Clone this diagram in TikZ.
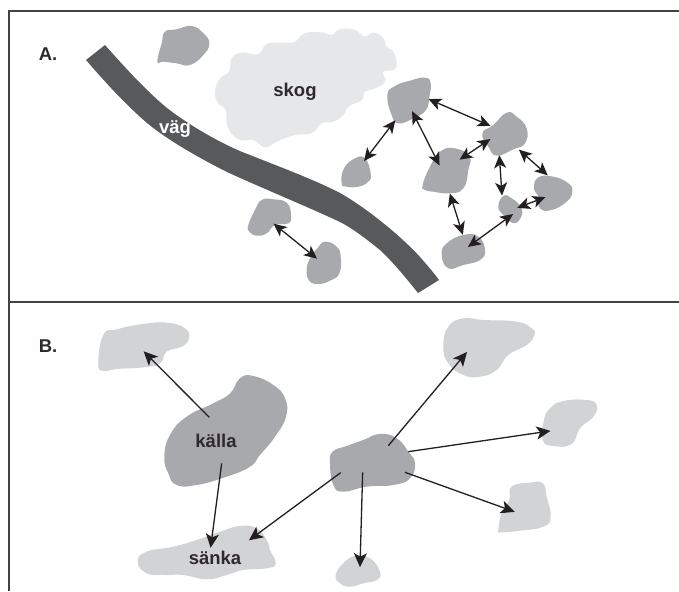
\documentclass[tikz,border=0pt]{standalone}
\usepackage{fontspec}
\setmainfont{Liberation Sans}
\usetikzlibrary{arrows.meta}
\definecolor{patchdark}{HTML}{A7A9AC}
\definecolor{patchlight}{HTML}{D1D3D4}
\definecolor{forestgrey}{HTML}{E6E7E8}
\definecolor{roadgrey}{HTML}{58595B}
\definecolor{inkblack}{HTML}{231F20}
\tikzset{
  zA/.style={shift={(330,60)},scale=0.33333},
  zB/.style={shift={(0,0)},scale=0.33333},
  zC/.style={shift={(0,300)},scale=0.33333},
  zD/.style={shift={(320,300)},scale=0.33333},
  zE/.style={shift={(205,20)},scale=0.33333},
  zF/.style={shift={(230,190)},scale=0.33333},
  frameline/.style={draw=inkblack!85,line width=1.5pt},
  darkblob/.style={fill=patchdark},
  lightblob/.style={fill=patchlight},
  both/.style={inkblack,line width=1.3pt,{Stealth[length=13pt,width=12pt,inset=3.5pt]}-{Stealth[length=13pt,width=12pt,inset=3.5pt]},shorten <=-0.5pt,shorten >=-0.5pt},
  one/.style={inkblack,line width=1.3pt,-{Stealth[length=14pt,width=13pt,inset=3.5pt]},shorten >=-0.5pt},
  lab/.style={font=\fontsize{18.5}{21}\selectfont\bfseries,text=inkblack!95,inner sep=0pt},
}
\newcommand{\blob}[2]{\fill[#1] plot[smooth cycle,tension=0.8] coordinates {#2};}
\begin{document}
\begin{tikzpicture}[x=1pt,y=-1pt]
\useasboundingbox (0,0) rectangle (679,591);
\fill[white] (0,0) rectangle (679,591);
% frame
\draw[frameline] (679,11) -- (9,11) -- (9,591);
\draw[frameline] (9,302) -- (679,302);
% forest
\begin{scope}[zE]
\fill[forestgrey] plot[smooth cycle,tension=0.8] coordinates {(30,215)(45,175)(72,155)(80,115)(110,98)(160,102)(185,72)(235,68)(270,65)(300,40)(350,37)(380,45)(405,28)(450,30)(478,50)(505,38)(535,55)(543,80)(565,95)(575,130)(565,150)(535,155)(540,185)(510,205)(480,215)(470,240)(430,260)(415,285)(385,305)(350,310)(320,340)(270,345)(215,365)(180,382)(145,360)(100,358)(68,320)(62,270)(40,250)};
\end{scope}
% road
\fill[roadgrey] (105,45) .. controls (120,62) and (145,90) .. (167,108)
  .. controls (190,126) and (225,146) .. (250,155)
  .. controls (280,167) and (315,180) .. (340,193)
  .. controls (365,207) and (400,235) .. (420,257)
  .. controls (427,265) and (434,273) .. (439,280)
  -- (418,293)
  .. controls (410,283) and (395,264) .. (380,250)
  .. controls (365,238) and (352,228) .. (340,222)
  .. controls (315,210) and (255,185) .. (227,172)
  .. controls (205,161) and (170,142) .. (147,123)
  .. controls (125,104) and (105,82) .. (86,60) -- cycle;
% panel A patches
\begin{scope}[zB]
\blob{darkblob}{(472,185)(485,130)(495,95)(530,88)(575,78)(610,100)(628,130)(610,165)(570,195)(530,190)(490,185)}
\coordinate (l1) at (822,672);
\coordinate (l2) at (950,775);
\end{scope}
\begin{scope}[zF]
\blob{darkblob}{(55,105)(75,60)(95,30)(130,28)(170,38)(183,75)(175,100)(135,105)(110,130)(80,137)(58,125)}
\blob{darkblob}{(230,240)(240,205)(262,175)(285,155)(320,170)(332,200)(328,250)(300,272)(265,282)(238,272)}
\end{scope}
\begin{scope}[zA]
\blob{darkblob}{(172,105)(195,78)(240,62)(285,53)(302,70)(298,110)(288,150)(250,175)(205,190)(185,165)}
\blob{darkblob}{(35,370)(42,325)(75,295)(105,295)(122,340)(115,365)(85,380)(50,380)}
\blob{darkblob}{(278,375)(300,320)(330,275)(375,265)(418,290)(415,330)(400,385)(360,400)(310,395)(285,390)}
\blob{darkblob}{(457,220)(490,195)(530,158)(560,170)(590,205)(585,250)(550,268)(500,287)(475,260)}
\blob{darkblob}{(612,385)(625,352)(670,350)(715,370)(727,395)(710,425)(665,450)(630,445)(625,410)}
\blob{darkblob}{(505,440)(520,408)(545,415)(575,445)(568,480)(545,488)(520,465)}
\blob{darkblob}{(335,585)(350,550)(400,525)(445,530)(465,570)(450,600)(400,615)(355,625)}
\coordinate (a1) at (297,118); \coordinate (a2) at (480,197);
\coordinate (b1) at (195,182); \coordinate (b2) at (103,302);
\coordinate (c1) at (247,155); \coordinate (c2) at (328,315);
\coordinate (d1) at (480,238); \coordinate (d2) at (390,298);
\coordinate (e1) at (508,287); \coordinate (e2) at (516,405);
\coordinate (f1) at (568,270); \coordinate (f2) at (652,345);
\coordinate (g1) at (645,412); \coordinate (g2) at (563,443);
\coordinate (h1) at (548,463); \coordinate (h2) at (415,560);
\coordinate (i1) at (360,402); \coordinate (i2) at (398,523);
\end{scope}
% panel B patches
\begin{scope}[zC]
\blob{lightblob}{(295,190)(310,105)(350,88)(430,72)(500,68)(555,85)(567,115)(545,140)(500,155)(480,190)(430,202)(350,207)(310,213)}
\blob{darkblob}{(493,470)(510,405)(560,350)(640,310)(690,280)(720,235)(760,228)(820,255)(855,295)(858,350)(825,410)(780,465)(750,500)(680,530)(590,555)(530,555)(505,520)}
\blob{lightblob}{(413,785)(440,755)(520,740)(590,720)(660,695)(720,678)(770,685)(800,720)(810,750)(827,790)(800,805)(730,810)(680,825)(620,838)(550,825)(490,825)(440,820)}
\coordinate (m1) at (628,352); \coordinate (m2) at (432,155);
\coordinate (n1) at (665,490); \coordinate (n2) at (632,742);
\coordinate (o2) at (748,720);
\end{scope}
\begin{scope}[zD]
\blob{lightblob}{(370,140)(385,80)(430,55)(490,60)(590,65)(635,85)(643,105)(620,135)(565,165)(530,210)(480,230)(430,225)(385,190)}
\blob{lightblob}{(672,360)(690,325)(730,303)(800,300)(830,315)(820,350)(780,385)(755,432)(700,438)(668,420)}
\blob{lightblob}{(535,690)(545,640)(568,600)(575,560)(630,548)(668,550)(680,590)(692,650)(670,680)(600,692)(540,697)}
\blob{lightblob}{(47,825)(70,790)(105,768)(150,775)(180,815)(170,840)(130,850)(90,860)(60,850)}
\blob{darkblob}{(30,490)(38,455)(80,438)(130,420)(180,402)(230,415)(265,455)(285,490)(270,535)(220,555)(140,560)(70,575)(40,555)}
\coordinate (o1) at (62,518);
\coordinate (p1) at (205,437); \coordinate (p2) at (440,157);
\coordinate (q1) at (265,455); \coordinate (q2) at (690,393);
\coordinate (r1) at (255,517); \coordinate (r2) at (583,635);
\coordinate (s1) at (128,517); \coordinate (s2) at (120,800);
\end{scope}
% arrows
\foreach \u/\v in {a1/a2,b1/b2,c1/c2,d1/d2,e1/e2,f1/f2,g1/g2,h1/h2,i1/i2,l1/l2}
  \draw[both] (\u) -- (\v);
\foreach \u/\v in {m1/m2,n1/n2,o1/o2,p1/p2,q1/q2,r1/r2,s1/s2}
  \draw[one] (\u) -- (\v);
% labels
\node[lab] (labA) at (48,54) {A.};
\node[lab] (labB) at (48,346) {B.};
\node[lab] (skog) at (295,92) {skog};
\node[lab,text=white] (vag) at (175,129) {väg};
\node[lab] (kalla) at (216,441) {källa};
\node[lab] (sanka) at (215,558) {sänka};
\end{tikzpicture}
\end{document}
